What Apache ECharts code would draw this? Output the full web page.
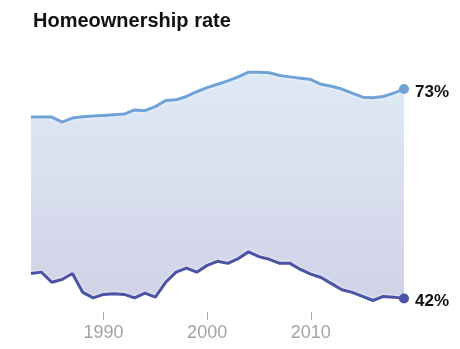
<!DOCTYPE html>
<html>
<head>
<meta charset="utf-8">
<style>
  html, body { margin: 0; padding: 0; background: #fff; }
  #chart { width: 460px; height: 349px; }
</style>
<script src="https://cdn.jsdelivr.net/npm/echarts@6/dist/echarts.min.js"></script>
</head>
<body>
<div id="chart"></div>
<script>
// Homeownership rate, two groups, 1983-2019 (percent)
const years = [];
for (let y = 1983; y <= 2019; y++) years.push(String(y));

const upperRate = [68.85, 68.85, 68.85, 68.1, 68.7, 68.9, 69.0, 69.1, 69.2, 69.3, 69.9, 69.8, 70.4,
  71.3, 71.4, 71.9, 72.6, 73.2, 73.7, 74.2, 74.8, 75.5, 75.5, 75.4, 75.0,
  74.8, 74.6, 74.4, 73.7, 73.4, 73.0, 72.4, 71.8, 71.7, 71.9, 72.4, 73.0];

const lowerRate = [45.7, 45.9, 44.4, 44.8, 45.7, 42.9, 42.1, 42.6, 42.7, 42.6, 42.1, 42.8, 42.2,
  44.4, 45.9, 46.5, 45.9, 46.9, 47.5, 47.2, 47.9, 48.9, 48.2, 47.8, 47.2,
  47.2, 46.3, 45.6, 45.1, 44.2, 43.3, 42.9, 42.3, 41.7, 42.3, 42.2, 42.0];

const tickYears = ['1990', '2000', '2010'];

const last = years.length - 1;

function endPoint(values) {
  return values.map((v, i) => i === last
    ? { value: v, symbol: 'circle', symbolSize: 10 }
    : { value: v, symbol: 'none' });
}

const labelStyle = {
  show: true,
  position: 'right',
  distance: 6,
  offset: [0, 3],
  fontFamily: 'Liberation Sans',
  fontWeight: 'bold',
  fontSize: 17,
  color: '#111',
  formatter: p => p.dataIndex === last ? Math.round(p.value) + '%' : ''
};

const lineHalo = { shadowColor: 'rgba(255,255,255,0.9)', shadowBlur: 3 };

const chart = echarts.init(document.getElementById('chart'), null, { renderer: 'canvas' });
chart.setOption({
  animation: false,
  title: {
    text: 'Homeownership rate',
    left: 28,
    top: 6,
    textStyle: { fontFamily: 'Liberation Sans', fontWeight: 'bold', fontSize: 20, color: '#111' }
  },
  grid: { left: 31, right: 56, top: 62, bottom: 37 },
  xAxis: {
    type: 'category',
    data: years,
    boundaryGap: false,
    axisLine: { show: false },
    axisTick: {
      show: true,
      length: 8,
      interval: (i, v) => tickYears.includes(v),
      lineStyle: { color: '#aaa', width: 1 }
    },
    axisLabel: {
      interval: (i, v) => tickYears.includes(v),
      color: '#a3a3a3',
      fontFamily: 'Liberation Sans',
      fontSize: 18,
      margin: 12
    },
    splitLine: { show: false }
  },
  yAxis: {
    type: 'value',
    min: 40,
    max: 77,
    show: false,
    splitLine: { show: false }
  },
  series: [
    {
      // shaded band: upper line filled down to the axis, lower series masks below
      name: 'upper',
      type: 'line',
      data: endPoint(upperRate),
      lineStyle: Object.assign({ color: '#6fa3d8', width: 3 }, lineHalo),
      itemStyle: { color: '#6fa3d8' },
      areaStyle: {
        opacity: 1,
        origin: 'start',
        color: new echarts.graphic.LinearGradient(0, 0, 0, 1, [
          { offset: 0, color: '#dee9f5' },
          { offset: 0.4, color: '#dae1f0' },
          { offset: 0.92, color: '#d1d2e7' },
          { offset: 1, color: '#d1d2e7' }
        ])
      },
      label: labelStyle,
      z: 2
    },
    {
      name: 'lower',
      type: 'line',
      data: endPoint(lowerRate),
      lineStyle: Object.assign({ color: '#4a53a4', width: 3 }, lineHalo),
      itemStyle: { color: '#4a53a4' },
      areaStyle: { opacity: 1, origin: 'start', color: '#ffffff' },
      label: labelStyle,
      z: 3
    }
  ]
});
</script>
</body>
</html>
